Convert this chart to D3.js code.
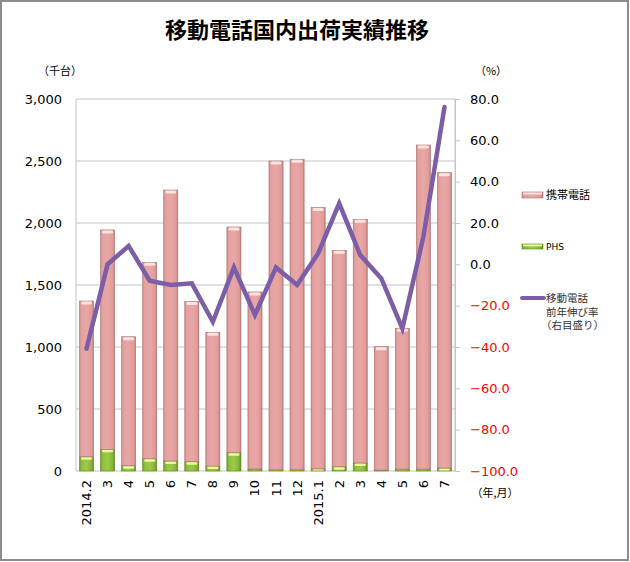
<!DOCTYPE html>
<html><head><meta charset="utf-8">
<script src="https://cdn.jsdelivr.net/npm/d3@7/dist/d3.min.js"></script>
<style>body{margin:0;background:#fff}svg{display:block}</style>
</head><body>
<svg id="c" width="630" height="562"></svg>
<script>
const categories = ["2014.2","3","4","5","6","7","8","9","10","11","12","2015.1","2","3","4","5","6","7"];
const mobile = [1256,1769,1040,1584,2185,1291,1078,1820,1428,2490,2504,2108,1745,1965,995,1136,2614,2382];
const phs = [115,175,43,99,81,75,40,148,16,10,10,18,35,65,8,15,15,24];
const growth = [-40.8,0.0,8.9,-7.9,-10.0,-9.2,-27.8,-1.5,-24.5,-1.5,-10.0,5.3,29.5,4.5,-6.8,-31.0,13.4,76.1];
const leftTicks = [0,500,1000,1500,2000,2500,3000];
const rightTicks = [-100,-80,-60,-40,-20,0,20,40,60,80];

const svg = d3.select("#c");
const W = 630, H = 562;
const L = 76, R = 455, T = 99, B = 471;
const jp = "'Noto Sans CJK JP','Noto Sans',sans-serif";
const num = "'DejaVu Sans',Verdana,sans-serif";

// border
svg.append("rect").attr("x",1).attr("y",1).attr("width",W-3).attr("height",H-3)
  .attr("fill","#fff").attr("stroke","#8c8c8c").attr("stroke-width",2);

const defs = svg.append("defs");
function grad(id, stops){
  const g = defs.append("linearGradient").attr("id",id).attr("x1","0").attr("x2","1").attr("y1","0").attr("y2","0");
  stops.forEach(s=>g.append("stop").attr("offset",s[0]).attr("stop-color",s[1]));
}
grad("gPink",[[0,"#c98a89"],[0.12,"#e3a09e"],[0.5,"#e8a7a5"],[0.88,"#e09b99"],[1,"#b97b7a"]]);
grad("gGreen",[[0,"#6e9a2a"],[0.15,"#8fbf3c"],[0.5,"#9ccb48"],[0.85,"#86b536"],[1,"#5f8a22"]]);

const x = d3.scaleBand().domain(d3.range(categories.length)).range([L,R]).paddingInner(0.33).paddingOuter(0.165);
const yL = d3.scaleLinear().domain([0,3000]).range([B,T]);
const yR = d3.scaleLinear().domain([-100,80]).range([B,T]);

// gridlines
svg.append("g").selectAll("line").data(leftTicks).join("line")
  .attr("x1",L).attr("x2",R).attr("y1",d=>yL(d)).attr("y2",d=>yL(d))
  .attr("stroke","#c4c4c4").attr("stroke-width",1);
svg.append("line").attr("x1",L).attr("x2",L).attr("y1",T).attr("y2",B).attr("stroke","#c4c4c4");
svg.append("line").attr("x1",R).attr("x2",R).attr("y1",T).attr("y2",B).attr("stroke","#c4c4c4");

// left axis
const axL = d3.axisLeft(yL).tickValues(leftTicks).tickSize(0).tickPadding(14).tickFormat(d3.format(","));
const gL = svg.append("g").attr("transform",`translate(${L},0)`).call(axL);
gL.select(".domain").remove();
gL.selectAll("text").attr("font-family",num).attr("font-size",13).attr("fill","#000");

// right axis
const axR = d3.axisRight(yR).tickValues(rightTicks).tickSize(5).tickPadding(10).tickFormat(d3.format(".1f"));
const gR = svg.append("g").attr("transform",`translate(${R},0)`).call(axR);
gR.select(".domain").attr("stroke","#c4c4c4");
gR.selectAll(".tick line").attr("stroke","#c4c4c4");
gR.selectAll("text").attr("font-family",num).attr("font-size",13).attr("fill",d=>d<0?"#ff0000":"#000");

// bars
const bw = x.bandwidth();
const gb = svg.append("g");
categories.forEach((c,i)=>{
  const x0 = x(i);
  const yp = yL(phs[i]);
  const yt = yL(phs[i]+mobile[i]);
  gb.append("rect").attr("x",x0).attr("y",yp).attr("width",bw).attr("height",B-yp)
    .attr("fill","url(#gGreen)").attr("stroke","#5f8a22").attr("stroke-width",0.6);
  if (B-yp>2) gb.append("rect").attr("x",x0+1.5).attr("y",yp+0.5).attr("width",bw-3).attr("height",Math.min(2.5,B-yp-1))
    .attr("rx",1.2).attr("fill","#e8f7a0");
  gb.append("rect").attr("x",x0).attr("y",yt).attr("width",bw).attr("height",yp-yt)
    .attr("fill","url(#gPink)").attr("stroke","#b07372").attr("stroke-width",0.6);
  gb.append("rect").attr("x",x0+1.5).attr("y",yt+0.5).attr("width",bw-3).attr("height",3)
    .attr("rx",1.5).attr("fill","#fbe3e2");
});

// line
const line = d3.line().x((d,i)=>x(i)+bw/2).y(d=>yR(d));
svg.append("path").datum(growth).attr("d",line).attr("fill","none")
  .attr("stroke","#7b5ea7").attr("stroke-width",4.5).attr("stroke-linejoin","miter").attr("stroke-linecap","round");

// x labels
const gx = svg.append("g");
categories.forEach((c,i)=>{
  gx.append("text").attr("transform",`translate(${x(i)+bw/2+4.5},${B+9}) rotate(-90)`)
    .attr("text-anchor","end").attr("font-family",num).attr("font-size",13).attr("fill","#000").text(c);
});

// title and units
svg.append("text").attr("x",297).attr("y",38).attr("text-anchor","middle").attr("font-family",jp)
  .attr("font-weight","bold").attr("font-size",22).attr("fill","#000").text("移動電話国内出荷実績推移");
svg.append("text").attr("x",60).attr("y",75).attr("text-anchor","middle").attr("font-family",jp)
  .attr("font-size",11).attr("fill","#000").text("（千台）");
svg.append("text").attr("x",491).attr("y",75).attr("text-anchor","middle").attr("font-family",jp)
  .attr("font-size",11).attr("fill","#000").text("（%）");
svg.append("text").attr("x",495).attr("y",497).attr("text-anchor","middle").attr("font-family",jp)
  .attr("font-size",11).attr("fill","#000").text("（年,月）");

// legend
const lg = svg.append("g");
lg.append("rect").attr("x",522).attr("y",192).attr("width",21).attr("height",6).attr("fill","url(#gPink)").attr("stroke","#b07372").attr("stroke-width",0.6);
lg.append("rect").attr("x",523).attr("y",192.5).attr("width",19).attr("height",2).attr("fill","#fbe3e2");
lg.append("text").attr("x",546).attr("y",199).attr("font-family",jp).attr("font-size",11).text("携帯電話");
lg.append("rect").attr("x",522).attr("y",244).attr("width",21).attr("height",5).attr("fill","url(#gGreen)").attr("stroke","#5f8a22").attr("stroke-width",0.6);
lg.append("rect").attr("x",523).attr("y",244.5).attr("width",19).attr("height",1.8).attr("fill","#e8f7a0");
lg.append("text").attr("x",546).attr("y",250).attr("font-family",num).attr("font-size",9).text("PHS");
lg.append("line").attr("x1",522).attr("x2",544).attr("y1",298).attr("y2",298).attr("stroke","#7b5ea7").attr("stroke-width",4).attr("stroke-linecap","round");
["移動電話","前年伸び率","（右目盛り）"].forEach((t,k)=>{
  lg.append("text").attr("x",k==2?541:546).attr("y",302+k*13.5).attr("font-family",jp).attr("font-size",10.5).attr("fill","#333").text(t);
});
</script>
</body></html>
